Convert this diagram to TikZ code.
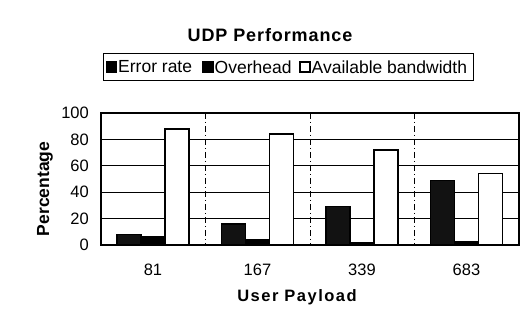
\documentclass[tikz,border=0pt]{standalone}
\usepackage{fontspec}
\setmainfont{Liberation Sans}
\begin{document}
\begin{tikzpicture}[x=1pt,y=-1pt,
  axisframe/.style={draw=black,line width=1.4pt},
  gridh/.style={draw=black,line width=0.9pt},
  gridv/.style={draw=black,line width=0.7pt,dash pattern=on 6pt off 3pt on 1pt off 3pt},
  barbox/.style={draw=black,line width=1.4pt},
  errbar/.style={barbox,fill=black!93},
  ovbar/.style={barbox,fill=black},
  avbar/.style={barbox,fill=white},
  ticklab/.style={font=\fontsize{16.5}{16.5}\selectfont,anchor=east,inner sep=0pt},
  catlab/.style={font=\fontsize{16.5}{16.5}\selectfont,inner sep=0pt},
  leglab/.style={font=\fontsize{17.5}{17.5}\selectfont,anchor=west,inner sep=0pt},
  legsq/.style={draw=black,line width=1.1pt,minimum size=10pt,inner sep=0pt}
]
\useasboundingbox (0,0) rectangle (528,326);
% title
\node[font=\bfseries\fontsize{18}{18}\selectfont\addfontfeatures{LetterSpace=5},inner sep=0pt] (title) at (270,35) {UDP Performance};
% legend
\node[draw=black,line width=0.9pt,minimum width=370pt,minimum height=27pt,inner sep=0pt] (legend) at (288,67) {};
\node[legsq,fill=black] (lsq1) at (111.5,67) {};
\node[leglab] (ltx1) at (118,67) {Error rate};
\node[legsq,fill=black] (lsq2) at (208,67) {};
\node[leglab] (ltx2) at (214.5,67) {Overhead};
\node[legsq,fill=white] (lsq3) at (305,67) {};
\node[leglab] (ltx3) at (311.5,67) {Available bandwidth};
% grid
\foreach \v in {20,40,60,80}{
  \draw[gridh] (101,{245-1.32*\v}) -- (519,{245-1.32*\v});
}
\foreach \xx in {205.5,310,414.5}{
  \draw[gridv] (\xx,113) -- (\xx,245);
}
% bars
\foreach \c/\e/\o/\a/\lab in {153/8/6/88/81, 257.5/16/4/84/167, 362/29/1.5/72/339, 466.5/49/2.5/54/683}{
  \draw[errbar] (\c-36,245) rectangle (\c-12,{245-1.32*\e});
  \draw[ovbar] (\c-12,245) rectangle (\c+12,{245-1.32*\o});
  \draw[avbar] (\c+12,245) rectangle (\c+36,{245-1.32*\a});
  \node[catlab] (cat\lab) at (\c,270) {\lab};
}
% frame
\draw[axisframe] (101,113) rectangle (519,245);
% ticks
\foreach \v in {0,20,40,60,80,100}{
  \node[ticklab] (t\v) at (89,{245-1.32*\v}) {\v};
}
% axis labels
\node[font=\bfseries\fontsize{17.5}{17.5}\selectfont,rotate=90,inner sep=0pt] (ylab) at (45,189) {Percentage};
\node[font=\bfseries\fontsize{16.5}{16.5}\selectfont\addfontfeatures{LetterSpace=9},inner sep=0pt] (xlab) at (297,297) {User Payload};
\end{tikzpicture}
\end{document}
